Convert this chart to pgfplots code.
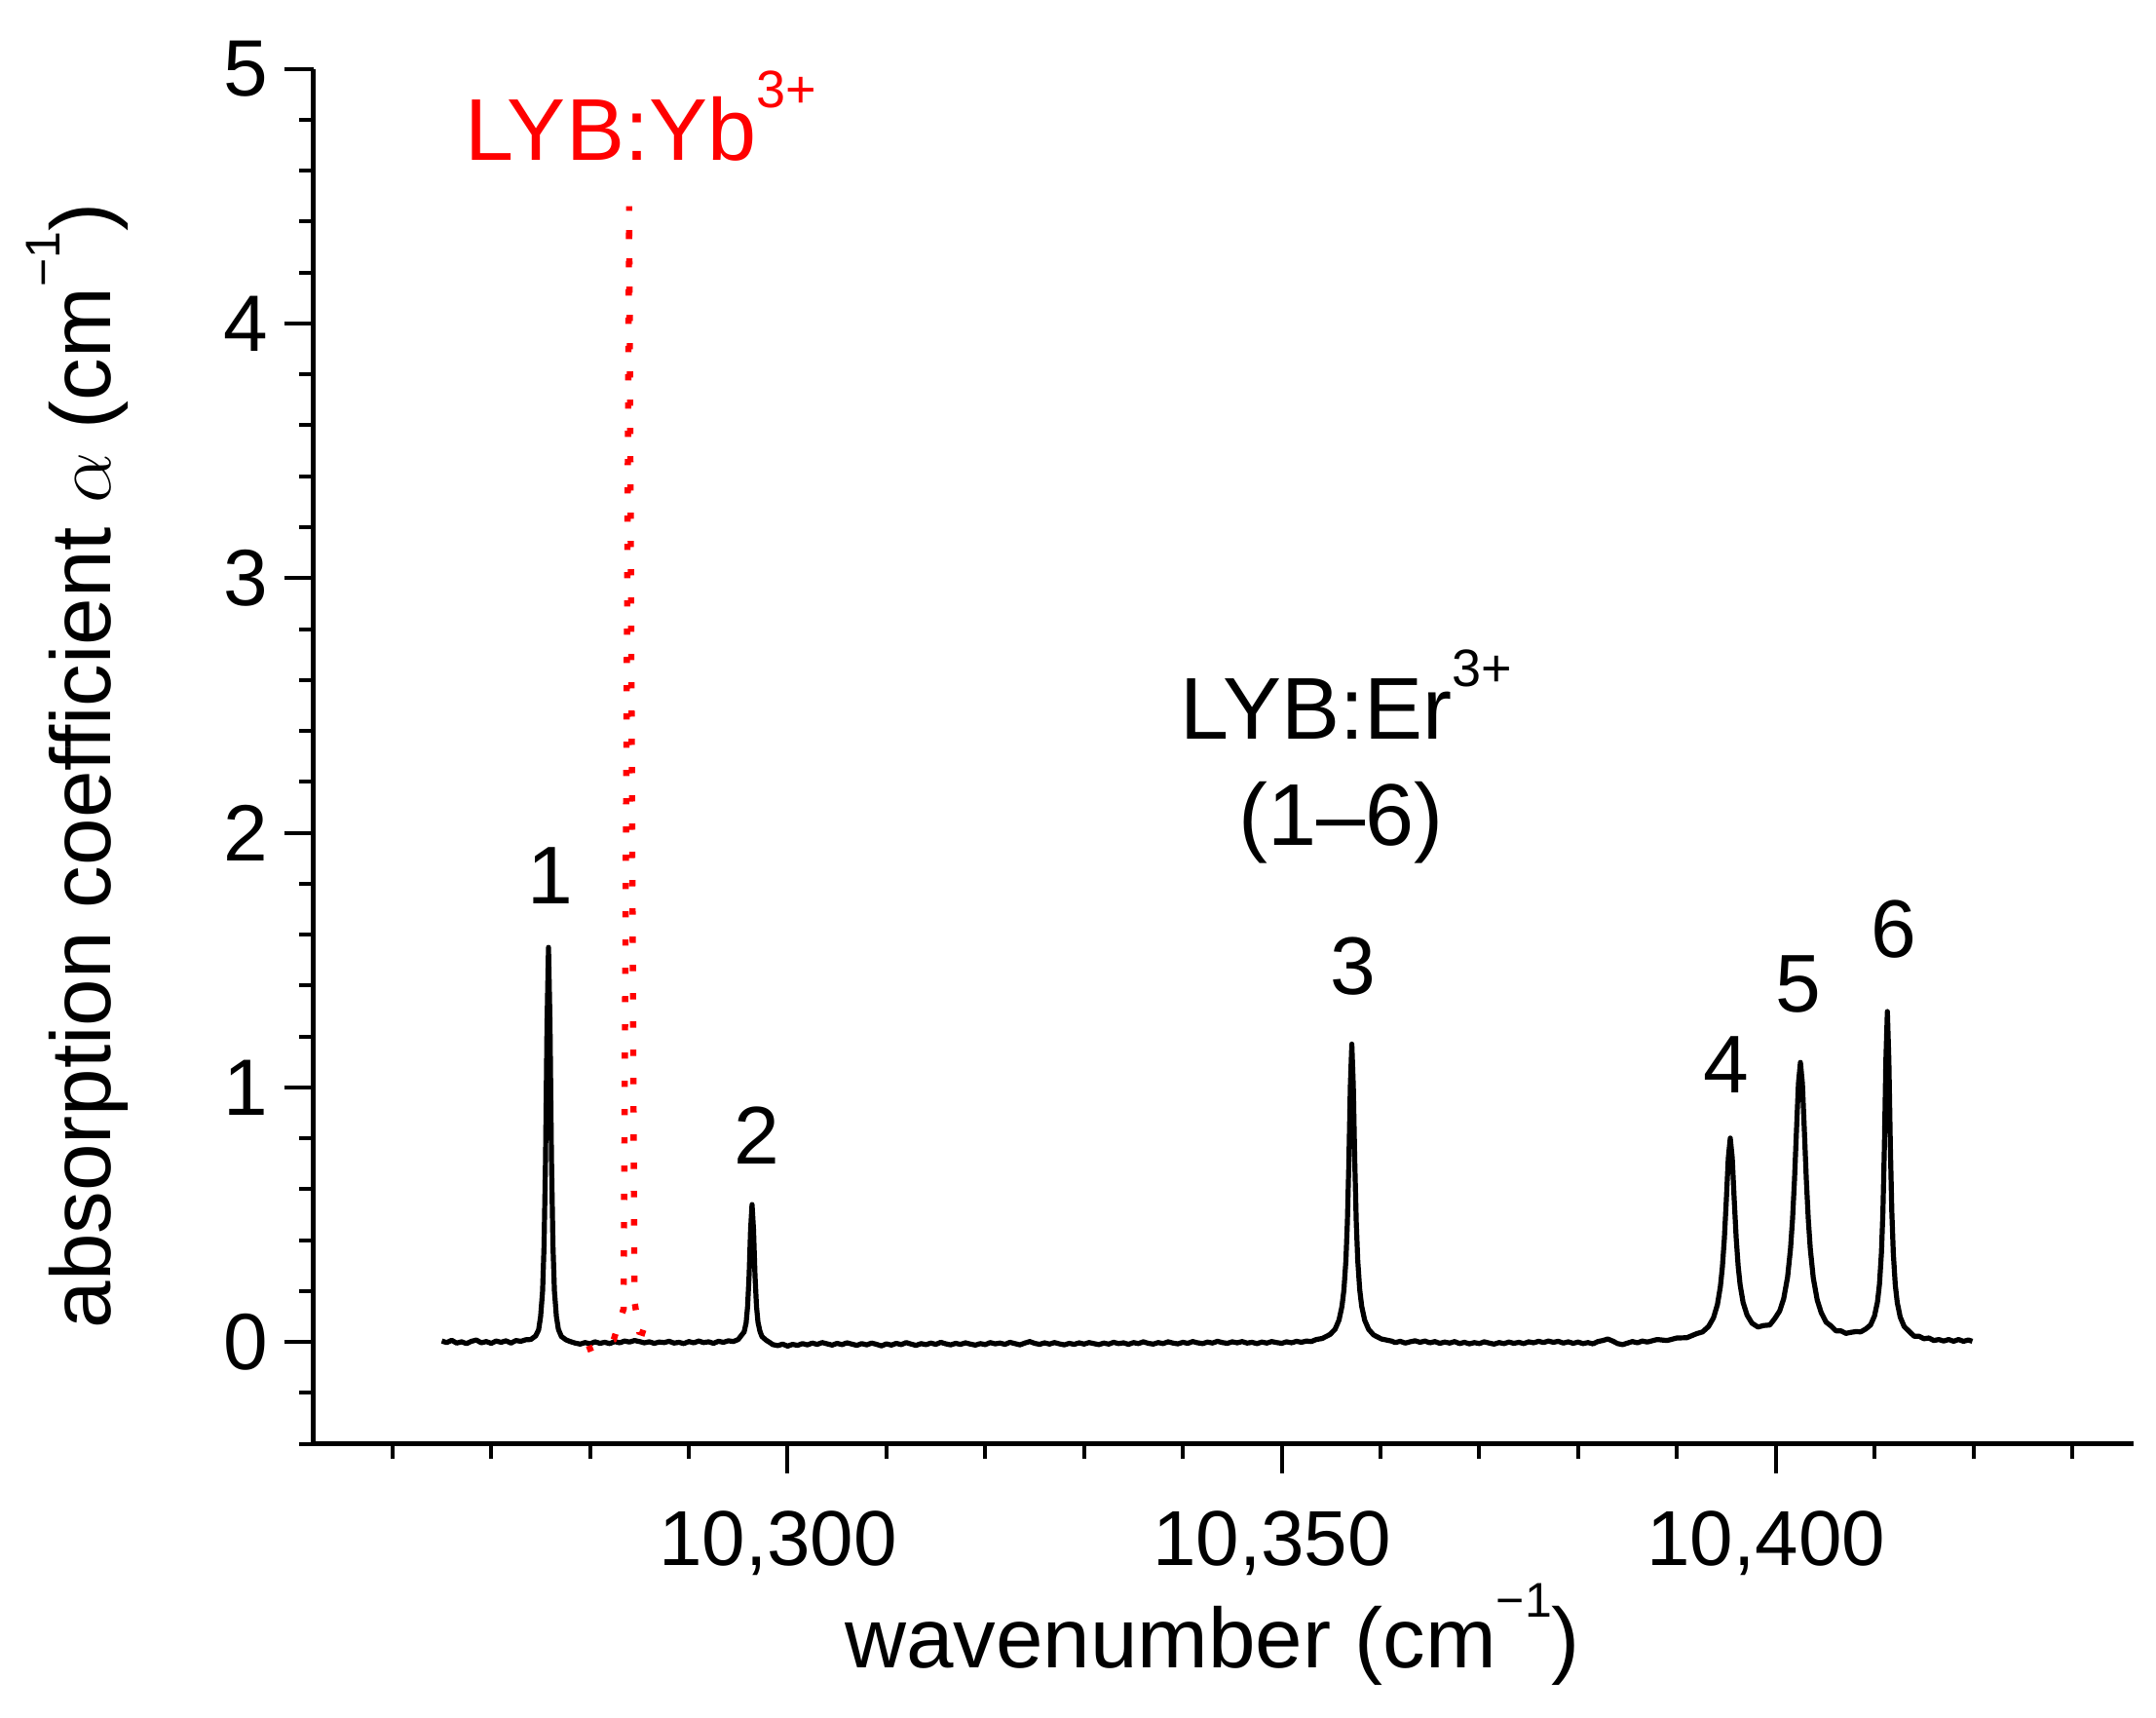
\documentclass[border=0pt]{standalone}
\usepackage{fontspec}
\setmainfont{Liberation Sans}
\usepackage{pgfplots}
\pgfplotsset{compat=1.18}
\usetikzlibrary{calc}

% raised, reduced superscript in the style of the plotting program
\newcommand{\sps}[1]{\raisebox{0.6em}{\fontsize{12.5}{12.5}\selectfont #1}}
\newcommand{\numfont}{\fontsize{21}{21}\selectfont}
\newcommand{\lblfont}{\fontsize{22.5}{22.5}\selectfont}
\newcommand{\sbs}[1]{\raisebox{0.6em}{\fontsize{13.5}{13.5}\selectfont #1}}

\begin{document}
\begin{tikzpicture}
\begin{axis}[
  name=ax,
  scale only axis,
  width=467pt, height=352.75pt,
  xmin=10252, xmax=10436.2,
  ymin=-0.4, ymax=5,
  clip=false,
  axis lines=left,
  axis line style={-, line width=1.25pt},
  tick align=outside,
  major tick length=7.5pt,
  minor tick length=3.75pt,
  tick style={black, line width=1pt},
  xtick={10300,10350,10400},
  minor xtick={10260,10270,10280,10290,10310,10320,10330,10340,10360,10370,10380,10390,10410,10420,10430},
  ytick={0,1,2,3,4,5},
  minor ytick={-0.4,-0.2,0.2,0.4,0.6,0.8,1.2,1.4,1.6,1.8,2.2,2.4,2.6,2.8,3.2,3.4,3.6,3.8,4.2,4.4,4.6,4.8},
  scaled x ticks=false,
  scaled y ticks=false,
  /pgf/number format/assume math mode=true,
  xticklabel style={/pgf/number format/fixed, /pgf/number format/1000 sep={,}},
  yticklabel style={font=\fontsize{20.5}{20.5}\selectfont},
  xticklabel style={font=\fontsize{20}{20}\selectfont},
  xticklabel style={inner sep=0pt, anchor=north, xshift=-2.5pt, yshift=-9.4pt},
  yticklabel style={inner sep=0pt, anchor=east, xshift=-4pt},
  xlabel={wavenumber (cm\sps{−1})},
  xlabel style={font=\fontsize{21.8}{21.8}\selectfont, inner sep=0pt,
    at={(axis description cs:0.494,-0.163)}, anchor=base},
  ylabel={absorption coefficient $\alpha$ (cm\sps{−1})},
  ylabel style={font=\fontsize{21.8}{21.8}\selectfont, inner sep=0pt,
    at={(axis description cs:-0.1112,0.493)}, anchor=base},
]

% LYB:Er3+ absorption spectrum
\addplot[black, line width=1.3pt, line join=round] table {
x y
10265.0 0.004
10265.5 -0.002
10266.0 0.007
10266.5 -0.004
10267.0 0.001
10267.5 -0.006
10268.0 0.003
10268.5 0.008
10269.0 -0.003
10269.5 0.002
10270.0 -0.005
10270.5 0.004
10271.0 -0.001
10271.5 0.005
10272.0 -0.004
10272.5 0.006
10273.0 0.003
10273.5 0.009
10274.0 0.010
10274.5 0.024
10274.8 0.048
10275.0 0.100
10275.2 0.200
10275.35 0.380
10275.5 0.720
10275.65 1.250
10275.8 1.550
10275.95 1.250
10276.1 0.720
10276.25 0.380
10276.4 0.200
10276.6 0.100
10276.8 0.050
10277.1 0.022
10277.6 0.008
10278.0 0.002
10278.5 -0.004
10279.0 -0.008
10279.5 -0.002
10280.0 -0.007
10280.5 0.001
10281.0 -0.005
10281.5 -0.001
10282.0 -0.006
10282.5 0.002
10283.0 -0.003
10283.5 0.004
10284.0 0.000
10284.5 0.006
10285.0 0.002
10285.5 -0.003
10286.0 0.001
10286.5 -0.005
10287.0 0.000
10287.5 -0.002
10288.0 0.003
10288.5 -0.004
10289.0 -0.001
10289.5 -0.006
10290.0 0.002
10290.5 -0.003
10291.0 0.004
10291.5 -0.002
10292.0 0.001
10292.5 -0.005
10293.0 0.003
10293.5 -0.001
10294.0 0.005
10294.5 0.002
10295.0 0.010
10295.6 0.040
10295.8 0.075
10295.95 0.140
10296.1 0.260
10296.25 0.440
10296.4 0.540
10296.55 0.440
10296.7 0.260
10296.85 0.140
10297.0 0.078
10297.2 0.042
10297.4 0.022
10297.8 0.008
10298.2 -0.002
10298.5 -0.010
10299.0 -0.014
10299.5 -0.008
10300.0 -0.016
10300.5 -0.009
10301.0 -0.013
10301.5 -0.006
10302.0 -0.011
10302.5 -0.004
10303.0 -0.009
10303.5 -0.002
10304.0 -0.007
10304.5 -0.012
10305.0 -0.005
10305.5 -0.010
10306.0 -0.003
10306.5 -0.008
10307.0 -0.013
10307.5 -0.006
10308.0 -0.011
10308.5 -0.004
10309.0 -0.009
10309.5 -0.015
10310.0 -0.007
10310.5 -0.012
10311.0 -0.005
10311.5 -0.010
10312.0 -0.002
10312.5 -0.008
10313.0 -0.013
10313.5 -0.006
10314.0 -0.010
10314.5 -0.004
10315.0 -0.009
10315.5 -0.001
10316.0 -0.007
10316.5 -0.011
10317.0 -0.005
10317.5 -0.009
10318.0 -0.003
10318.5 -0.008
10319.0 -0.012
10319.5 -0.006
10320.0 -0.010
10320.5 -0.002
10321.0 -0.007
10321.5 -0.004
10322.0 -0.009
10322.5 -0.001
10323.0 -0.006
10323.5 -0.011
10324.0 -0.004
10324.5 0.002
10325.0 -0.005
10325.5 -0.009
10326.0 -0.003
10326.5 -0.008
10327.0 -0.002
10327.5 -0.007
10328.0 -0.011
10328.5 -0.005
10329.0 -0.009
10329.5 -0.003
10330.0 -0.008
10330.5 -0.002
10331.0 -0.006
10331.5 -0.010
10332.0 -0.004
10332.5 -0.008
10333.0 -0.001
10333.5 -0.006
10334.0 -0.003
10334.5 -0.009
10335.0 -0.002
10335.5 -0.006
10336.0 0.001
10336.5 -0.005
10337.0 -0.008
10337.5 -0.002
10338.0 -0.006
10338.5 0.001
10339.0 -0.004
10339.5 -0.007
10340.0 -0.001
10340.5 -0.005
10341.0 0.002
10341.5 -0.003
10342.0 -0.006
10342.5 0.000
10343.0 -0.004
10343.5 0.003
10344.0 -0.002
10344.5 -0.005
10345.0 0.001
10345.5 -0.003
10346.0 0.002
10346.5 -0.004
10347.0 -0.001
10347.5 -0.006
10348.0 0.000
10348.5 -0.004
10349.0 0.002
10349.5 -0.002
10350.0 -0.005
10350.5 0.001
10351.0 -0.003
10351.5 0.003
10352.0 -0.001
10352.5 0.004
10353.0 0.002
10353.5 0.010
10354.1 0.014
10354.9 0.030
10355.4 0.050
10355.8 0.086
10356.1 0.140
10356.3 0.205
10356.5 0.320
10356.65 0.470
10356.8 0.705
10356.95 1.005
10357.1 1.170
10357.25 1.005
10357.4 0.705
10357.55 0.470
10357.7 0.320
10357.9 0.205
10358.1 0.140
10358.4 0.086
10358.8 0.050
10359.3 0.028
10360.1 0.012
10361.1 0.004
10361.5 -0.002
10362.0 0.003
10362.5 -0.004
10363.0 0.001
10363.5 0.005
10364.0 -0.001
10364.5 0.004
10365.0 -0.003
10365.5 0.002
10366.0 -0.005
10366.5 0.000
10367.0 -0.004
10367.5 0.002
10368.0 -0.006
10368.5 -0.001
10369.0 -0.007
10369.5 -0.002
10370.0 -0.006
10370.5 0.001
10371.0 -0.004
10371.5 -0.008
10372.0 -0.002
10372.5 -0.006
10373.0 0.000
10373.5 -0.005
10374.0 -0.001
10374.5 -0.006
10375.0 0.001
10375.5 -0.003
10376.0 0.003
10376.5 -0.002
10377.0 0.004
10377.5 -0.001
10378.0 0.003
10378.5 -0.004
10379.0 0.001
10379.5 -0.005
10380.0 0.000
10380.5 -0.006
10381.0 -0.002
10381.5 -0.007
10382.0 0.002
10382.5 0.006
10383.0 0.012
10383.5 0.004
10384.0 -0.006
10384.5 -0.010
10385.0 -0.004
10385.5 0.002
10386.0 -0.003
10386.5 0.004
10387.0 0.000
10387.5 0.005
10388.0 0.010
10389.0 0.006
10390.0 0.016
10391.0 0.017
10392.0 0.033
10392.6 0.040
10393.2 0.061
10393.7 0.095
10394.1 0.147
10394.4 0.218
10394.6 0.294
10394.8 0.405
10395.0 0.557
10395.2 0.722
10395.4 0.801
10395.6 0.723
10395.8 0.559
10396.0 0.408
10396.2 0.298
10396.4 0.224
10396.7 0.155
10397.1 0.106
10397.6 0.074
10398.2 0.059
10398.8 0.065
10399.4 0.067
10399.9 0.092
10400.4 0.122
10400.8 0.169
10401.2 0.255
10401.5 0.368
10401.7 0.482
10401.9 0.637
10402.1 0.830
10402.3 1.016
10402.5 1.098
10402.7 1.015
10402.9 0.829
10403.1 0.636
10403.3 0.480
10403.5 0.366
10403.8 0.252
10404.2 0.165
10404.6 0.116
10405.1 0.078
10405.6 0.063
10406.1 0.044
10406.6 0.044
10407.1 0.034
10407.6 0.038
10408.1 0.041
10408.6 0.040
10409.1 0.051
10409.6 0.067
10410.0 0.103
10410.3 0.158
10410.5 0.227
10410.7 0.351
10410.85 0.512
10411.0 0.770
10411.15 1.108
10411.3 1.298
10411.45 1.107
10411.6 0.769
10411.75 0.511
10411.9 0.349
10412.1 0.224
10412.3 0.155
10412.6 0.098
10413.0 0.061
10413.5 0.042
10414.0 0.023
10414.5 0.023
10415.0 0.013
10415.5 0.016
10416.0 0.006
10416.5 0.010
10417.0 0.004
10417.5 0.010
10418.0 0.003
10418.5 0.010
10419.0 0.003
10419.5 0.008
10419.9 0.003
};

% LYB:Yb3+ reference line (dotted)
\addplot[red, line width=1.6pt, dash pattern=on 1.6pt off 5.65pt] coordinates {
(10279.7,-0.03) (10282.4,0.01) (10283.4,0.13) (10283.96,4.46)
(10284.5,0.16) (10285.0,0.04) (10287.3,0.01)
};

% annotations
\node[anchor=base west, text=red, inner sep=0pt, font=\lblfont] at (axis cs:10267.3,4.64) {LYB:Yb\sbs{3+}};
\node[anchor=base west, inner sep=0pt, font=\lblfont] at (axis cs:10339.7,2.366) {LYB:Er\sbs{3+}};
\node[anchor=base, inner sep=0pt, font=\lblfont] at (axis cs:10356.0,1.95) {(1–6)};
\node[inner sep=0pt, font=\numfont] at (axis cs:10276.0,1.83) {1};
\node[inner sep=0pt, font=\numfont] at (axis cs:10296.9,0.81) {2};
\node[inner sep=0pt, font=\numfont] at (axis cs:10357.2,1.475) {3};
\node[inner sep=0pt, font=\numfont] at (axis cs:10395.0,1.089) {4};
\node[inner sep=0pt, font=\numfont] at (axis cs:10402.3,1.406) {5};
\node[inner sep=0pt, font=\numfont] at (axis cs:10411.9,1.62) {6};
\end{axis}
% page extent around the axis
\path ($(ax.south west)+(-80.4pt,-70.3pt)$) rectangle ($(ax.north east)+(5.8pt,17.65pt)$);
\end{tikzpicture}
\end{document}
